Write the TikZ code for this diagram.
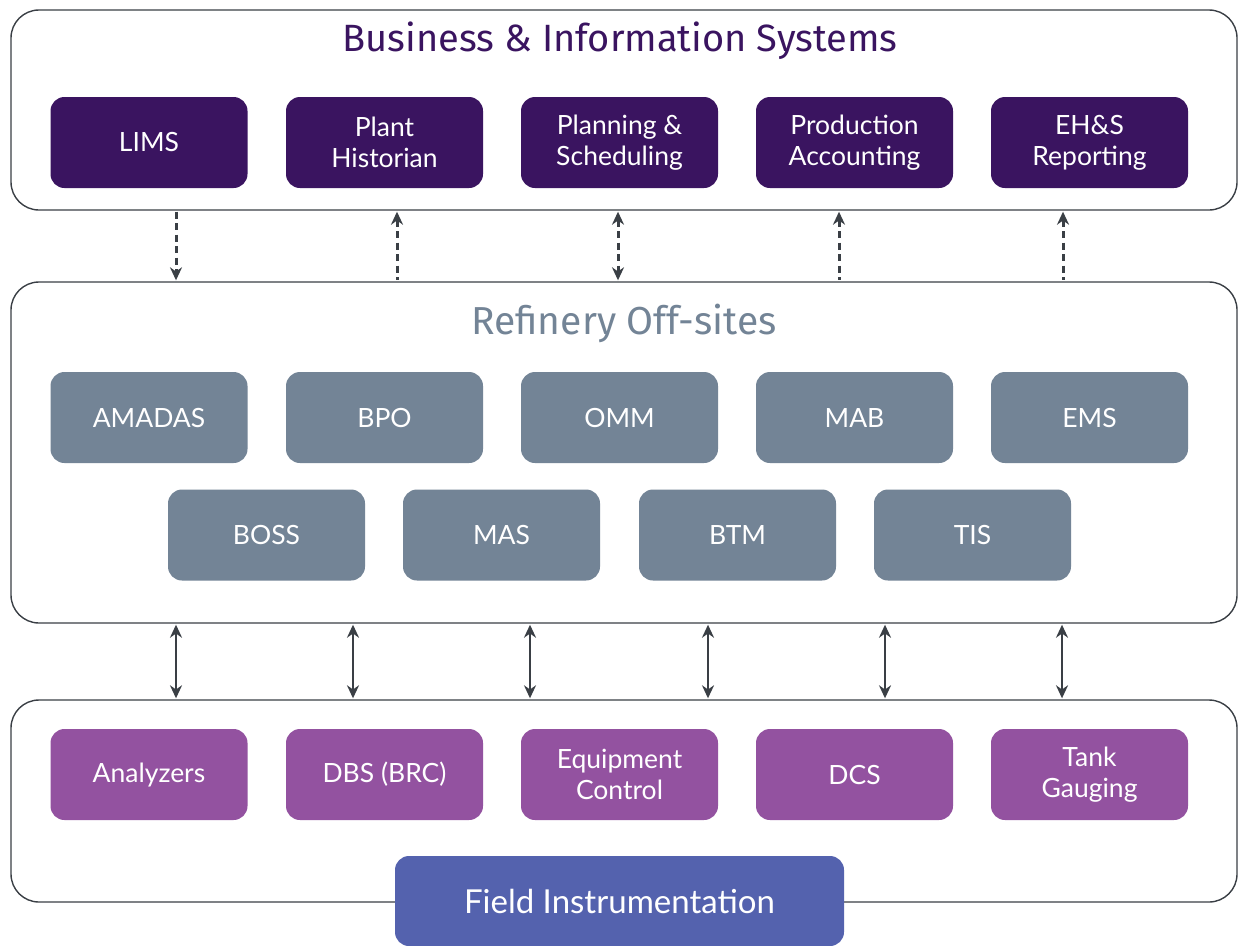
\documentclass[tikz,border=0pt]{standalone}
\usepackage{fontspec}
\setmainfont{Lato}
\newfontfamily\titlefont{Fira Sans}
\usepackage{xcolor}
\usetikzlibrary{arrows.meta}
\definecolor{bisfill}{HTML}{3a1460}
\definecolor{offfill}{HTML}{738496}
\definecolor{ctrlfill}{HTML}{9352a0}
\definecolor{fieldfill}{HTML}{5462ae}
\definecolor{linecolor}{HTML}{3a3f45}

\tikzset{
    layer/.style = {draw = linecolor, line width = 1.4pt, rounded corners = 28pt, fill = white, rectangle, inner sep = 0pt},
    appbox/.style = {rectangle, rounded corners = 14pt, minimum width = 197pt, minimum height = 91pt, inner sep = 0pt, text = white, align = center, font = \fontsize{26.5}{31}\selectfont},
    bisbox/.style = {appbox, fill = bisfill},
    offbox/.style = {appbox, fill = offfill},
    ctrlbox/.style = {appbox, fill = ctrlfill},
    dashlink/.style = {line width = 3pt, color = linecolor, dash pattern = on 7pt off 4.5pt, > = {Stealth[length = 13pt, width = 12pt]}, shorten < = 1pt, shorten > = 1pt},
    solidlink/.style = {line width = 2.5pt, color = linecolor, > = {Stealth[length = 13pt, width = 12pt]}, shorten < = 1pt, shorten > = 1pt}
}

\begin{document}
\begin{tikzpicture}[x = 1pt, y = -1pt]
        \useasboundingbox (0, 0) rectangle (1238, 945);

        % Layers
        \node [layer, minimum width = 1226pt, minimum height = 200pt] (bis) at (624, 110) {};
        \node [layer, minimum width = 1226pt, minimum height = 341pt] (off) at (624, 452.5) {};
        \node [layer, minimum width = 1226pt, minimum height = 202pt] (ctrl) at (624, 801) {};

        \node [text = bisfill, font = \titlefont\fontsize{38}{42}\selectfont] (bistitle) at (620, 41) {Business \& Information Systems};
        \node [text = offfill, font = \titlefont\fontsize{39}{42}\selectfont] (offtitle) at (624, 323) {Refinery Off-sites};

        % Business systems
        \node [bisbox] (lims) at (149, 142.5) {LIMS};
        \node [bisbox] (hist) at (384.5, 142.5) {Plant\\Historian};
        \node [bisbox] (plan) at (619.5, 142.5) {Planning \&\\Scheduling};
        \node [bisbox] (acct) at (854.5, 142.5) {Production\\Accounting};
        \node [bisbox] (ehs) at (1089.5, 142.5) {EH\&S\\Reporting};

        % Off-sites
        \node [offbox] (amadas) at (149, 417.5) {AMADAS};
        \node [offbox] (bpo) at (384.5, 417.5) {BPO};
        \node [offbox] (omm) at (619.5, 417.5) {OMM};
        \node [offbox] (mab) at (854.5, 417.5) {MAB};
        \node [offbox] (ems) at (1089.5, 417.5) {EMS};
        \node [offbox] (boss) at (266.5, 535) {BOSS};
        \node [offbox] (mas) at (501.5, 535) {MAS};
        \node [offbox] (btm) at (737.5, 535) {BTM};
        \node [offbox] (tis) at (972.5, 535) {TIS};

        % Control
        \node [ctrlbox] (anal) at (149, 774.5) {Analyzers};
        \node [ctrlbox] (dbs) at (384.5, 774.5) {DBS (BRC)};
        \node [ctrlbox] (equip) at (619.5, 774.5) {Equipment\\Control};
        \node [ctrlbox] (dcs) at (854.5, 774.5) {DCS};
        \node [ctrlbox] (tank) at (1089.5, 774.5) {Tank\\Gauging};

        \node [appbox, fill = fieldfill, minimum width = 449pt, minimum height = 90pt, font = \fontsize{33}{38}\selectfont] (field) at (619.5, 901) {Field Instrumentation};

        % Draw the links
        \coordinate (d1) at (176, 0);
        \coordinate (d2) at (397, 0);
        \coordinate (d3) at (618, 0);
        \coordinate (d4) at (839, 0);
        \coordinate (d5) at (1063, 0);
        \draw [dashlink, ->] (d1 |- bis.south) -- (d1 |- off.north);
        \draw [dashlink, <-] (d2 |- bis.south) -- (d2 |- off.north);
        \draw [dashlink, <->] (d3 |- bis.south) -- (d3 |- off.north);
        \draw [dashlink, <-] (d4 |- bis.south) -- (d4 |- off.north);
        \draw [dashlink, <-] (d5 |- bis.south) -- (d5 |- off.north);

        \coordinate (s1) at (176, 0);
        \coordinate (s2) at (353, 0);
        \coordinate (s3) at (530, 0);
        \coordinate (s4) at (708, 0);
        \coordinate (s5) at (885, 0);
        \coordinate (s6) at (1062, 0);
        \draw [solidlink, <->] (s1 |- off.south) -- (s1 |- ctrl.north);
        \draw [solidlink, <->] (s2 |- off.south) -- (s2 |- ctrl.north);
        \draw [solidlink, <->] (s3 |- off.south) -- (s3 |- ctrl.north);
        \draw [solidlink, <->] (s4 |- off.south) -- (s4 |- ctrl.north);
        \draw [solidlink, <->] (s5 |- off.south) -- (s5 |- ctrl.north);
        \draw [solidlink, <->] (s6 |- off.south) -- (s6 |- ctrl.north);

    \end{tikzpicture}
\end{document}
